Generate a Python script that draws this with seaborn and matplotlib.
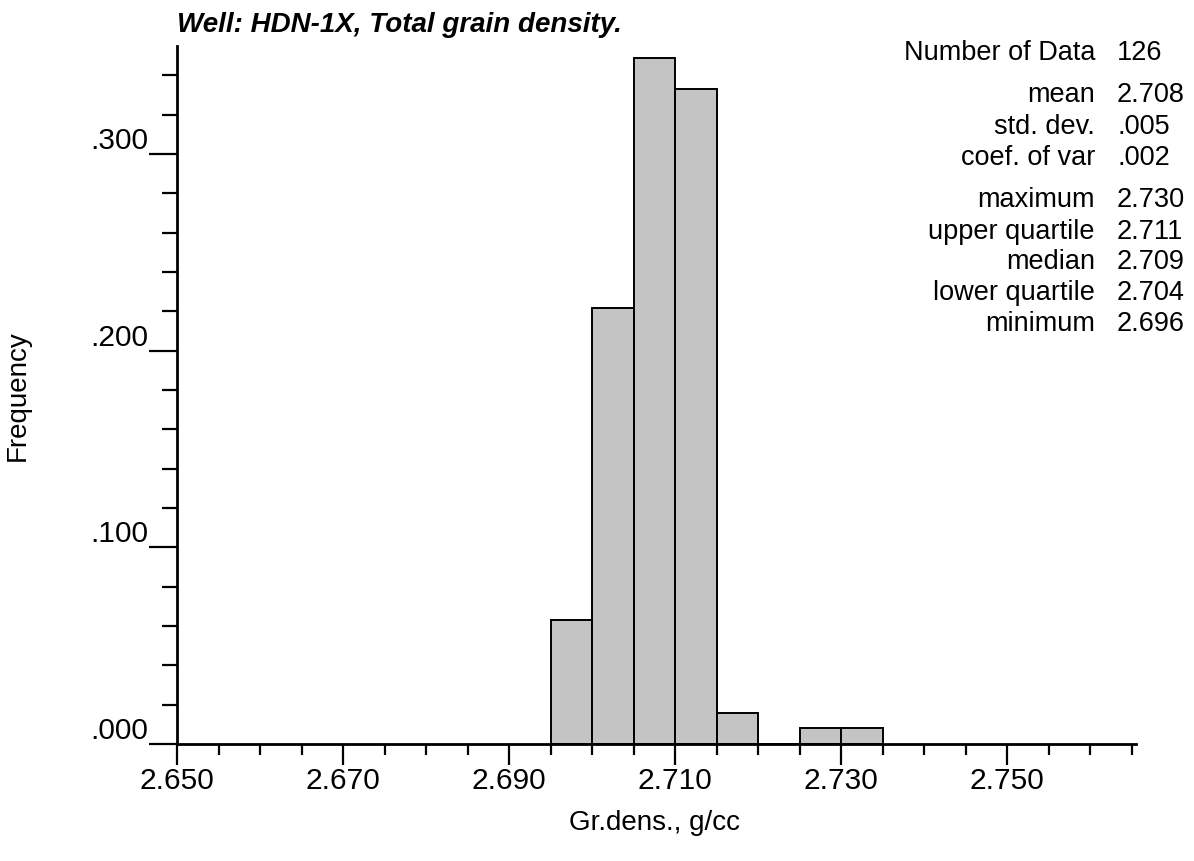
import matplotlib
matplotlib.use("Agg")
import matplotlib.pyplot as plt
import seaborn as sns
from matplotlib.ticker import MultipleLocator, FixedLocator

# histogram data (frequency per 0.005 g/cc bin)
bin_edges = [2.695, 2.700, 2.705, 2.710, 2.715, 2.720, 2.725, 2.730, 2.735]
bin_centers = [2.6975, 2.7025, 2.7075, 2.7125, 2.7175, 2.7225, 2.7275, 2.7325]
freqs = [0.063, 0.222, 0.349, 0.333, 0.016, 0.0, 0.008, 0.008]

x_ticks = [2.650, 2.670, 2.690, 2.710, 2.730, 2.750]
x_ticklabels = ["2.650", "2.670", "2.690", "2.710", "2.730", "2.750"]
y_ticks = [0.0, 0.1, 0.2, 0.3]
y_ticklabels = [".000", ".100", ".200", ".300"]

stat_names = ["Number of Data", "mean", "std. dev.", "coef. of var",
              "maximum", "upper quartile", "median", "lower quartile", "minimum"]
stat_values = ["126", "2.708", ".005", ".002",
               "2.730", "2.711", "2.709", "2.704", "2.696"]
stat_rows_px = [53, 95, 127, 158, 200, 232, 262, 293, 324]

sns.set_style("ticks")
plt.rcParams['font.family'] = ['Liberation Sans', 'DejaVu Sans']
plt.rcParams['text.color'] = 'black'
plt.rcParams['axes.labelcolor'] = 'black'
plt.rcParams['xtick.color'] = 'black'
plt.rcParams['ytick.color'] = 'black'

W, H = 1194, 862
fig = plt.figure(figsize=(W / 100, H / 100), dpi=100)
ax = fig.add_axes([177 / W, 1 - 745 / H, (1136 - 177) / W, (745 - 47) / H])

sns.histplot(x=bin_centers, weights=freqs, bins=bin_edges, stat="count",
             color="#c4c4c4", edgecolor="black", linewidth=1.4, alpha=1.0, ax=ax)

ax.set_xlim(2.650, 2.7655)
ax.set_ylim(0, 0.355)

for side in ["top", "right"]:
    ax.spines[side].set_visible(False)
for side in ["left", "bottom"]:
    ax.spines[side].set_linewidth(2.0)
    ax.spines[side].set_color("black")

ax.xaxis.set_major_locator(FixedLocator(x_ticks))
ax.set_xticklabels(x_ticklabels)
ax.xaxis.set_minor_locator(MultipleLocator(0.005))
ax.yaxis.set_major_locator(FixedLocator(y_ticks))
ax.set_yticklabels(y_ticklabels)
ax.yaxis.set_minor_locator(MultipleLocator(0.02))

ax.tick_params(axis="x", which="major", length=15, width=1.6, labelsize=21.5, pad=1)
ax.tick_params(axis="x", which="minor", length=8, width=1.6)
ax.tick_params(axis="y", which="major", length=20, width=1.6, labelsize=21.5, pad=1)
ax.tick_params(axis="y", which="minor", length=11, width=1.6)
for lbl in ax.get_yticklabels():
    lbl.set_verticalalignment("bottom")

ax.set_xlabel("Gr.dens., g/cc", fontsize=20)
ax.set_ylabel("Frequency", fontsize=20)
ax.xaxis.set_label_coords(0.498, -0.093)
ax.yaxis.set_label_coords(-0.152, 0.5)

ax.set_title("Well: HDN-1X, Total grain density.", loc="left", fontsize=20,
             fontweight="bold", fontstyle="italic", pad=11)

for name, val, ypx in zip(stat_names, stat_values, stat_rows_px):
    fig.text(1095 / W, 1 - ypx / H, name, ha="right", va="center", fontsize=19.5)
    fig.text(1117 / W, 1 - ypx / H, val, ha="left", va="center", fontsize=19.5)

fig.savefig("out.png", dpi=100)
